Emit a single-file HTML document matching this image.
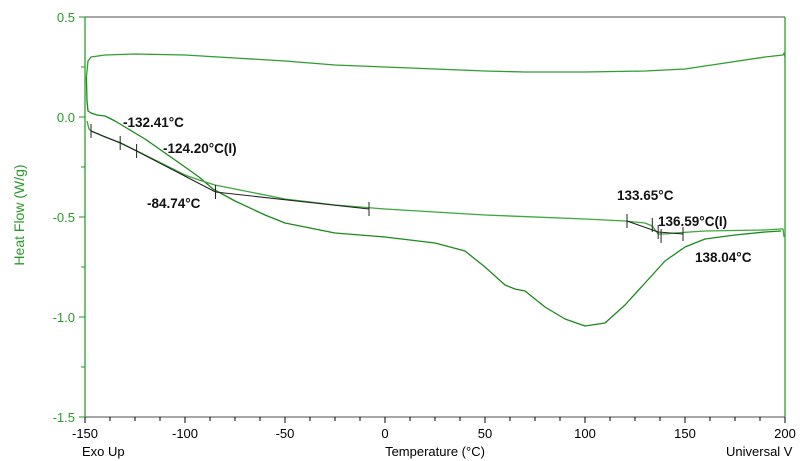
<!DOCTYPE html>
<html><head><meta charset="utf-8"><style>
html,body{margin:0;padding:0;background:#fff;width:800px;height:461px;overflow:hidden}
svg{display:block;font-family:"Liberation Sans",Arial,sans-serif}
</style></head><body>
<svg id="c" width="800" height="461">
<text x="82" y="456" font-size="13" fill="#000">Exo Up</text>
<text x="435" y="456" font-size="13" fill="#000" text-anchor="middle">Temperature (°C)</text>
<text x="726" y="456" font-size="13" fill="#000">Universal V</text>
<text transform="translate(24,215) rotate(-90)" font-size="14" fill="#2a9a2a" text-anchor="middle">Heat Flow (W/g)</text>
</svg>
<script>
const xTicks=[-150,-100,-50,0,50,100,150,200];
const yTicks=[0.5,0.0,-0.5,-1.0,-1.5];
const coolT=[200,199.5,199,190,170,150,130,100,70,50,25,0,-25,-50,-75,-100,-125,-140,-147,-148.5,-149.3];
const coolH=[0.30,0.32,0.31,0.30,0.27,0.24,0.23,0.225,0.225,0.23,0.24,0.25,0.26,0.28,0.295,0.31,0.315,0.31,0.30,0.28,0.2];
const heat1T=[-149.3,-149,-148.5,-147,-144,-140,-135,-130,-120,-110,-100,-93,-86,-75,-60,-50,-25,0,25,40,50,60,65,70,80,90,100,110,120,130,140,150,160,175,190,198];
const heat1H=[0.2,0.08,0.03,0.02,0.01,0.005,-0.02,-0.05,-0.11,-0.18,-0.25,-0.30,-0.36,-0.42,-0.49,-0.53,-0.58,-0.60,-0.63,-0.67,-0.75,-0.84,-0.86,-0.87,-0.95,-1.01,-1.045,-1.03,-0.94,-0.83,-0.72,-0.65,-0.61,-0.59,-0.575,-0.57];
const heat2T=[-149,-148,-147,-140,-132,-124,-110,-100,-93,-85,-75,-50,-25,0,50,100,120,130,133.6,136.6,140,145,160,190,198,199,199.5];
const heat2H=[-0.02,-0.06,-0.07,-0.10,-0.13,-0.17,-0.24,-0.29,-0.315,-0.34,-0.36,-0.41,-0.44,-0.46,-0.49,-0.51,-0.52,-0.53,-0.545,-0.585,-0.585,-0.58,-0.57,-0.565,-0.56,-0.56,-0.6];
const onsetT=[-147,-132.41,-124.2,-84.74,-8,121,133.65,136.59,138.04,149];
const onsetH=[-0.07,-0.13,-0.17,-0.375,-0.46,-0.52,-0.54,-0.575,-0.595,-0.585];
const labels=["-132.41°C","-124.20°C(I)","-84.74°C","133.65°C","136.59°C(I)","138.04°C"];
const labelT=[-131,-111,-119,116,136.5,155];
const labelH=[-0.05,-0.18,-0.455,-0.415,-0.545,-0.725];
const X=t=>85+(t+150)*(700/350);
const Y=h=>117-h*200;
const s=document.getElementById('c');const NS='http://www.w3.org/2000/svg';
function el(tag,a,name){const e=document.createElementNS(NS,tag);for(const k in a)e.setAttribute(k,a[k]);


s.appendChild(e);return e;}
el('line',{x1:85,y1:17,x2:785,y2:17,stroke:'#888','stroke-width':1.5},'top-border');
el('line',{x1:85,y1:417,x2:785,y2:417,stroke:'#888','stroke-width':1.5},'x-axis');
el('line',{x1:85,y1:17,x2:85,y2:417,stroke:'#1a9a1a','stroke-width':1.2},'y-axis');
el('line',{x1:785,y1:17,x2:785,y2:417,stroke:'#1a9a1a','stroke-width':1.2},'right-border');
for(let t=-150;t<=200;t+=12.5){const x=X(t);const maj=(t%50===0);
el('line',{x1:x,y1:417,x2:x,y2:417+(maj?6:4),stroke:'#000','stroke-width':1},'x-tick');}
xTicks.forEach(t=>{const e=el('text',{x:X(t),y:438,'font-size':13,'text-anchor':'middle',fill:'#000'},'x-tick-label');e.textContent=t;});
for(let h=0.5;h>=-1.5;h-=0.25){el('line',{x1:85,y1:Y(h),x2:h*4%2===0?79:81,y2:Y(h),stroke:'#1a9a1a','stroke-width':1},'y-tick');}
yTicks.forEach(h=>{const e=el('text',{x:75,y:Y(h)+5,'font-size':13,'text-anchor':'end',fill:'#2a9a2a'},'y-tick-label');e.textContent=h.toFixed(1);});
function line(T,H,c,w,name){el('polyline',{points:T.map((t,i)=>X(t)+','+Y(H[i])).join(' '),fill:'none',stroke:c,'stroke-width':w,'stroke-linejoin':'round'},name);}
line(coolT,coolH,'#2e9e2e',1.3,'cooling-curve');
line(heat1T,heat1H,'#1a8a1a',1.3,'first-heating-curve');
line(heat2T,heat2H,'#3aa83a',1.3,'second-heating-curve');
line(onsetT.slice(0,4).concat([onsetT[4]]),onsetH.slice(0,4).concat([onsetH[4]]),'#222',1.1,'tangent-low');
line([onsetT[5],onsetT[7],onsetT[9]],[onsetH[5],onsetH[7],onsetH[9]],'#222',1.1,'tangent-high');
onsetT.forEach((t,i)=>{const x=X(t),y=Y(onsetH[i]);
el('line',{x1:x,y1:y-7,x2:x,y2:y+7,stroke:'#222','stroke-width':1},'analysis-marker');});
labels.forEach((l,i)=>{const e=el('text',{x:X(labelT[i]),y:Y(labelH[i]),'font-size':13.5,'font-weight':'bold',fill:'#111'},'annotation-label');e.textContent=l;});
</script>
</body></html>
